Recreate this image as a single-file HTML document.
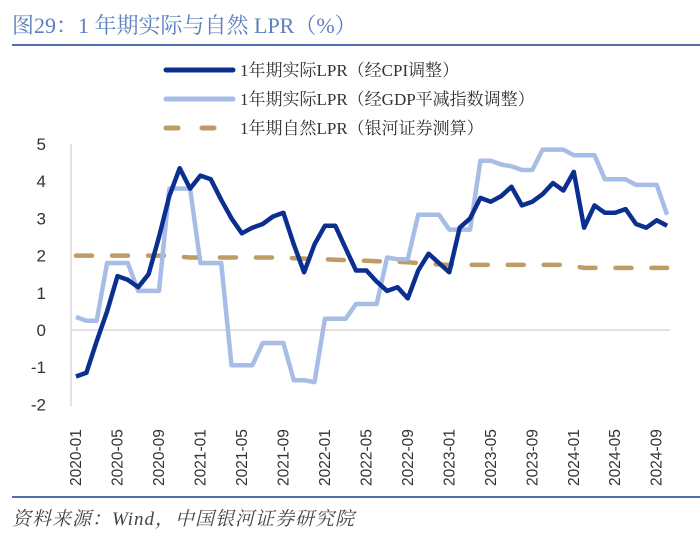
<!DOCTYPE html>
<html><head><meta charset="utf-8">
<style>
body{margin:0;background:#fff;width:700px;height:536px;overflow:hidden}
svg{display:block}
</style></head>
<body>
<svg id="chart" width="700" height="536" xmlns="http://www.w3.org/2000/svg">
<text x="12" y="33" font-family="'Liberation Serif','Noto Serif CJK SC',serif" font-size="22" fill="#5b7fbf">图29：1 年期实际与自然 LPR（%）</text>
<line x1="12" y1="45" x2="700" y2="45" stroke="#4f6fad" stroke-width="2"/>
<g>
<g>
<line x1="166" y1="70" x2="233" y2="70" stroke="#0a2f8f" stroke-width="5" stroke-linecap="round"/>
<text x="240" y="76" font-family="'Liberation Serif','Noto Serif CJK SC',serif" font-size="17" fill="#333">1年期实际LPR（经CPI调整）</text></g>
<g>
<line x1="166" y1="99" x2="233" y2="99" stroke="#a8bde6" stroke-width="5" stroke-linecap="round"/>
<text x="240" y="105" font-family="'Liberation Serif','Noto Serif CJK SC',serif" font-size="17" fill="#333">1年期实际LPR（经GDP平减指数调整）</text></g>
<g>
<line x1="166" y1="128" x2="233" y2="128" stroke="#bf9b66" stroke-width="5" stroke-linecap="round" stroke-dasharray="12,24"/>
<text x="240" y="134" font-family="'Liberation Serif','Noto Serif CJK SC',serif" font-size="17" fill="#333">1年期自然LPR（银河证券测算）</text></g>
</g>
<g id="axes"></g>
<g id="series"></g>
<line x1="12" y1="497" x2="700" y2="497" stroke="#4f6fad" stroke-width="2"/>
<text x="12" y="525" font-family="'Liberation Serif','Noto Serif CJK SC',serif" font-style="italic" font-size="19" letter-spacing="1" fill="#444">资料来源：Wind，中国银河证券研究院</text>
</svg>
<script>
const yTicks=[5,4,3,2,1,0,-1,-2];
const xTickLabels=["2020-01","2020-05","2020-09","2021-01","2021-05","2021-09","2022-01","2022-05","2022-09","2023-01","2023-05","2023-09","2024-01","2024-05","2024-09"];
const cpiReal=[-1.25,-1.15,-0.3,0.5,1.45,1.35,1.15,1.5,2.5,3.6,4.35,3.8,4.15,4.05,3.5,3.0,2.6,2.75,2.85,3.05,3.15,2.3,1.55,2.3,2.8,2.8,2.2,1.6,1.6,1.3,1.05,1.15,0.85,1.6,2.05,1.8,1.55,2.75,3.0,3.55,3.45,3.6,3.85,3.35,3.45,3.65,3.95,3.75,4.25,2.75,3.35,3.15,3.15,3.25,2.85,2.75,2.95,2.8];
const gdpReal=[0.35,0.25,0.25,1.8,1.8,1.8,1.05,1.05,1.05,3.8,3.8,3.8,1.8,1.8,1.8,-0.95,-0.95,-0.95,-0.35,-0.35,-0.35,-1.35,-1.35,-1.4,0.3,0.3,0.3,0.7,0.7,0.7,1.95,1.9,1.9,3.1,3.1,3.1,2.7,2.7,2.7,4.55,4.55,4.45,4.4,4.3,4.3,4.85,4.85,4.85,4.7,4.7,4.7,4.05,4.05,4.05,3.9,3.9,3.9,3.1];
const naturalLpr=[2.0,2.0,2.0,2.0,2.0,2.0,2.0,2.0,2.0,2.0,1.97,1.95,1.95,1.95,1.95,1.95,1.95,1.95,1.95,1.95,1.94,1.93,1.92,1.91,1.9,1.89,1.88,1.87,1.86,1.85,1.84,1.83,1.82,1.8,1.78,1.76,1.75,1.75,1.75,1.75,1.75,1.75,1.75,1.75,1.75,1.75,1.75,1.75,1.72,1.67,1.67,1.67,1.67,1.67,1.67,1.67,1.67,1.67];

const NS="http://www.w3.org/2000/svg";
const x=i=>76+i*10.37;
const y=v=>330-v*37.2;
const axes=document.getElementById('axes'), series=document.getElementById('series');
function mk(tag,attrs,parent){const e=document.createElementNS(NS,tag);for(const k in attrs)e.setAttribute(k,attrs[k]);parent.appendChild(e);return e;}

let yl=mk('line',{x1:71,y1:y(5),x2:71,y2:y(-2)+2,stroke:'#d9d9d9','stroke-width':1.5},axes);


let zl=mk('line',{x1:71,y1:y(0),x2:x(57)+3,y2:y(0),stroke:'#d9d9d9','stroke-width':1.5},axes);


yTicks.forEach(v=>{
 const t=mk('text',{x:46,y:y(v)+6,'text-anchor':'end','font-family':'Liberation Sans, sans-serif','font-size':17,fill:'#333'},axes);
 t.textContent=v;
 
 
});
xTickLabels.forEach((lab,k)=>{
 const xx=x(k*4)+5;
 const t=mk('text',{x:0,y:0,transform:`translate(${xx},486) rotate(-90)`,'font-family':'Liberation Sans, sans-serif','font-size':15.5,fill:'#333'},axes);
 t.textContent=lab;
 
 
});
function line(data,color,dash,name){
 const d=data.map((v,i)=>(i?'L':'M')+x(i).toFixed(1)+','+y(v).toFixed(1)).join(' ');
 const p=mk('path',{d:d,fill:'none',stroke:color,'stroke-width':4.5,'stroke-linejoin':'round'},series);
 if(dash){p.setAttribute('stroke-dasharray',dash);p.setAttribute('stroke-linecap','round');}
 
 
}
line(naturalLpr,'#bf9b66','16,20','natural-lpr-line');
line(gdpReal,'#a8bde6',null,'gdp-real-lpr-line');
line(cpiReal,'#0a2f8f',null,'cpi-real-lpr-line');
</script>
</body></html>
